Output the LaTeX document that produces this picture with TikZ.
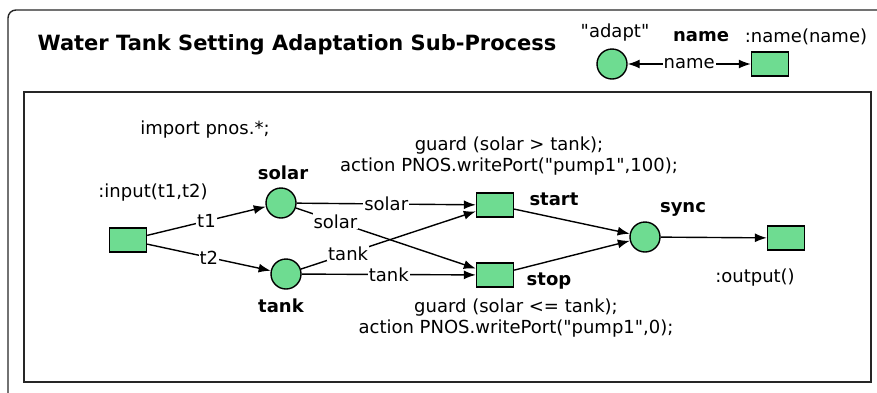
\documentclass[tikz,border=0pt]{standalone}
\usepackage{fontspec}
\setmainfont{DejaVu Sans}[Ligatures=TeXOff]
\usetikzlibrary{arrows.meta}
\definecolor{pnfill}{RGB}{110,220,145}

\begin{document}
\begin{tikzpicture}[x=1pt, y=-1pt, >={Latex[length=12pt,width=9pt]}, line width=1.4pt,
    every node/.style={font=\fontsize{18}{21}\selectfont},
    place/.style={draw,circle,fill=pnfill,minimum size=30pt,inner sep=0pt},
    trans/.style={draw,rectangle,fill=pnfill,minimum width=37pt,minimum height=24pt,inner sep=0pt},
    lbl/.style={fill=white,inner sep=1pt},
    bold/.style={font=\fontsize{18}{21}\selectfont\bfseries}]
        \useasboundingbox (0,0) rectangle (877,392);
        % frames
        \draw[black!85, rounded corners=8pt] (8,420) -- (8,10) -- (900,10);
        \draw[black!85] (24,92) rectangle (871,382);
        \node[font=\fontsize{21}{25}\selectfont\bfseries] (title) at (297,45) {Water Tank Setting Adaptation Sub-Process};
        % legend
        \node[place] (lp) at (612,64) {};
        \node[trans] (lt) at (770,64) {};
        \draw[<->] (lp)--node[lbl]{name}(lt);
        \node (ladapt) at (615,33) {"adapt"};
        \node[bold] (lname) at (701,37) {name};
        \node (lsig) at (806,37) {:name(name)};
        % net
        \node (imp) at (205,130) {import pnos.*;};
        \node[trans] (in) at (128,240) {};
        \node[place] (solar) at (281,203) {};
        \node[place] (tank) at (286,274) {};
        \node[trans] (start) at (495,205) {};
        \node[trans] (stop) at (495,275) {};
        \node[place] (sync) at (645,237) {};
        \node[trans] (out) at (786,238) {};
        \draw[->] (in)--node[lbl]{t1}(solar);
        \draw[->] (in)--node[lbl]{t2}(tank);
        \draw[->] (solar)--node[lbl]{solar}(start);
        \draw[->] (solar)--node[lbl,pos=0.22]{solar}(stop);
        \draw[->] (tank)--node[lbl,pos=0.27]{tank}(start);
        \draw[->] (tank)--node[lbl]{tank}(stop);
        \draw[->] (start)--(sync);
        \draw[->] (stop)--(sync);
        \draw[->] (sync)--(out);
        \node (insig) at (153,193) {:input(t1,t2)};
        \node[bold] (solarl) at (283,173) {solar};
        \node[bold] (tankl) at (281,306) {tank};
        \node[bold] (startl) at (554,199) {start};
        \node[bold] (stopl) at (549,281) {stop};
        \node[bold] (syncl) at (683,209) {sync};
        \node (outsig) at (755,278) {:output()};
        \node[align=center] (g1) at (509,156) {guard (solar > tank);\\action PNOS.writePort("pump1",100);};
        \node[align=center] (g2) at (516,318) {guard (solar <= tank);\\action PNOS.writePort("pump1",0);};
    \end{tikzpicture}
\end{document}
